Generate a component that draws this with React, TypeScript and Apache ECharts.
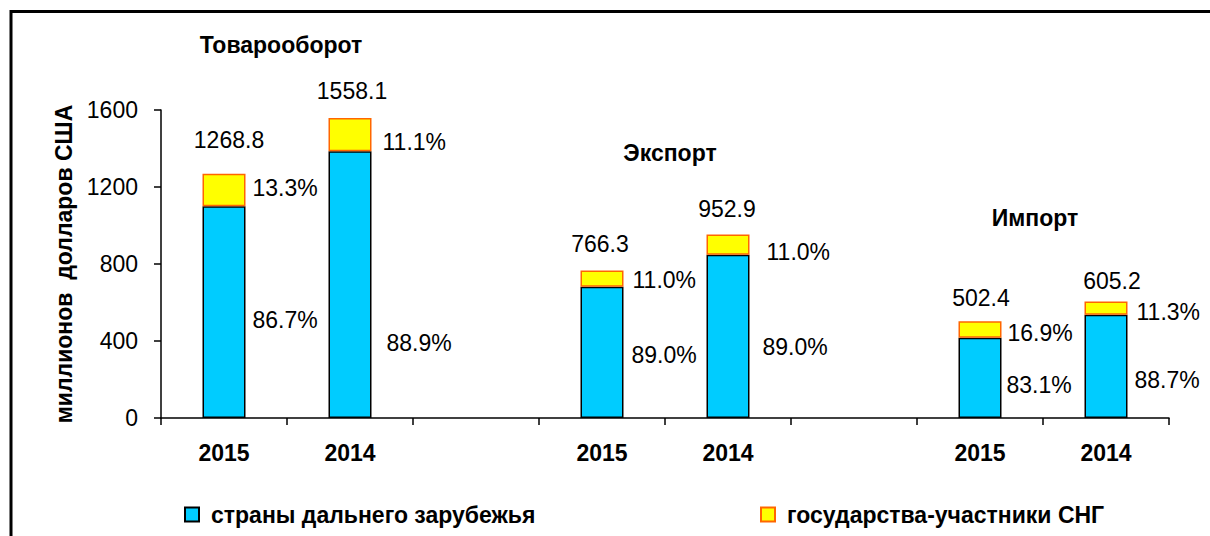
import React, { useEffect, useRef } from "react";
import * as echarts from "echarts";

const categories = ["2015", "2014", "", "2015", "2014", "", "2015", "2014"];
const farValues = [1100.1, 1385.2, null, 682.0, 848.1, null, 417.5, 536.8];
const cisValues = [168.7, 172.9, null, 84.3, 104.8, null, 84.9, 68.4];
const totals = [1268.8, 1558.1, null, 766.3, 952.9, null, 502.4, 605.2];
const farShares = ["86.7", "88.9", null, "89.0", "89.0", null, "83.1", "88.7"];
const cisShares = ["13.3", "11.1", null, "11.0", "11.0", null, "16.9", "11.3"];
const groupTitles = ["Товарооборот", "Экспорт", "Импорт"];
const seriesNames = ["страны дальнего зарубежья", "государства-участники СНГ"];
const yAxisName = "миллионов  долларов США";
const yMin = 0;
const yMax = 1600;
const yInterval = 400;

const FONT = "'Liberation Sans', Arial, sans-serif";
const NUM_SIZE = 23;
const BOLD_SIZE = 23;

export default function App() {
  const ref = useRef<HTMLDivElement>(null);
  useEffect(() => {
    if (!ref.current) return;
    const chart = echarts.init(ref.current, undefined, { renderer: "svg" });

    // label fine positioning (manual placements as in the original)
    const farOff = [[2, 8], [10, 58], null, [3, 3], [8, 11], null, [0, 7], [2, 14]];
    const cisOff = [[2, -2], [6, 7], null, [4, 1], [12, 7], null, [1, 4], [4, 4]];
    const totOff = [[5, -9], [2, -3], null, [-2, -2], [-1, -1], null, [1, 1], [6, 4]];
    const titlePos = [[281, 45], [670, 153], [1035, 218]];

    const legendText = { fontFamily: FONT, fontSize: BOLD_SIZE, fontWeight: "bold", color: "#000", padding: [0, 0, 0, 7] };

    const option: any = {
      animation: false,
      backgroundColor: "#ffffff",
      textStyle: { fontFamily: FONT },
      grid: { left: 161, right: 41, top: 110, bottom: 118 },
      legend: [
        {
          data: [seriesNames[0]],
          left: 179,
          top: 498,
          icon: "rect",
          itemWidth: 14,
          itemHeight: 14,
          textStyle: legendText,
        },
        {
          data: [seriesNames[1]],
          left: 755,
          top: 498,
          icon: "rect",
          itemWidth: 14,
          itemHeight: 14,
          textStyle: legendText,
        },
      ],
      xAxis: {
        type: "category",
        data: categories,
        boundaryGap: true,
        axisLine: { lineStyle: { color: "#000", width: 1.5 } },
        axisTick: { show: true, alignWithLabel: false, length: 7, lineStyle: { color: "#000", width: 1.5 } },
        axisLabel: { fontFamily: FONT, fontSize: BOLD_SIZE, fontWeight: "bold", color: "#000", margin: 23 },
        splitLine: { show: false },
      },
      yAxis: {
        type: "value",
        min: yMin,
        max: yMax,
        interval: yInterval,
        name: yAxisName,
        nameLocation: "middle",
        nameGap: 85,
        nameRotate: 90,
        nameTextStyle: { fontFamily: FONT, fontSize: BOLD_SIZE, fontWeight: "bold", color: "#000" },
        axisLine: { show: true, lineStyle: { color: "#000", width: 1.5 } },
        axisTick: { show: true, length: 7, lineStyle: { color: "#000", width: 1.5 } },
        axisLabel: {
          fontFamily: FONT,
          fontSize: NUM_SIZE,
          color: "#000",
          margin: 23,
          formatter: (v: number) => String(v),
        },
        splitLine: { show: false },
      },
      series: [
        {
          name: seriesNames[0],
          type: "bar",
          stack: "total",
          barWidth: 43,
          z: 2,
          itemStyle: { color: "#00CCFF", borderColor: "#000", borderWidth: 1.5 },
          data: farValues.map((v, i) => ({
            value: v,
            label: {
              show: v != null,
              position: "right",
              distance: 5,
              offset: farOff[i] || [0, 0],
              formatter: () => (farShares[i] ? farShares[i] + "%" : ""),
              fontFamily: FONT,
              fontSize: NUM_SIZE,
              color: "#000",
            },
          })),
        },
        {
          name: seriesNames[1],
          type: "bar",
          stack: "total",
          barWidth: 43,
          z: 3,
          itemStyle: { color: "#FFFF00", borderColor: "#FF6600", borderWidth: 1.5 },
          data: cisValues.map((v, i) => ({
            value: v,
            label: {
              show: v != null,
              position: "right",
              distance: 5,
              offset: cisOff[i] || [0, 0],
              formatter: () => (cisShares[i] ? cisShares[i] + "%" : ""),
              fontFamily: FONT,
              fontSize: NUM_SIZE,
              color: "#000",
            },
          })),
        },
        {
          name: "totals",
          type: "scatter",
          symbolSize: 0,
          itemStyle: { color: "#ffffff", opacity: 1 },
          silent: true,
          data: totals.map((v, i) => ({
            value: v,
            label: {
              show: v != null,
              position: "top",
              distance: 13,
              offset: totOff[i] || [0, 0],
              formatter: () => (v != null ? v.toFixed(1) : ""),
              fontFamily: FONT,
              fontSize: NUM_SIZE,
              color: "#000000",
              opacity: 1,
            },
          })),
        },
      ],
      graphic: [
        {
          type: "rect",
          silent: true,
          shape: { x: 11, y: 11.5, width: 1400, height: 800 },
          style: { fill: "none", stroke: "#000", lineWidth: 3 },
        },
        ...groupTitles.map((t, i) => ({
          type: "text",
          x: titlePos[i][0],
          y: titlePos[i][1],
          style: {
            text: t,
            fontFamily: FONT,
            fontSize: BOLD_SIZE,
            fontWeight: "bold",
            fill: "#000",
            textAlign: "center",
            textVerticalAlign: "middle",
          },
        })),
      ],
    };
    chart.setOption(option);
    return () => chart.dispose();
  }, []);
  return (
    <div
      ref={ref}
      style={{ position: "fixed", left: 0, top: 0, width: 1210, height: 536, background: "#fff" }}
    />
  );
}
